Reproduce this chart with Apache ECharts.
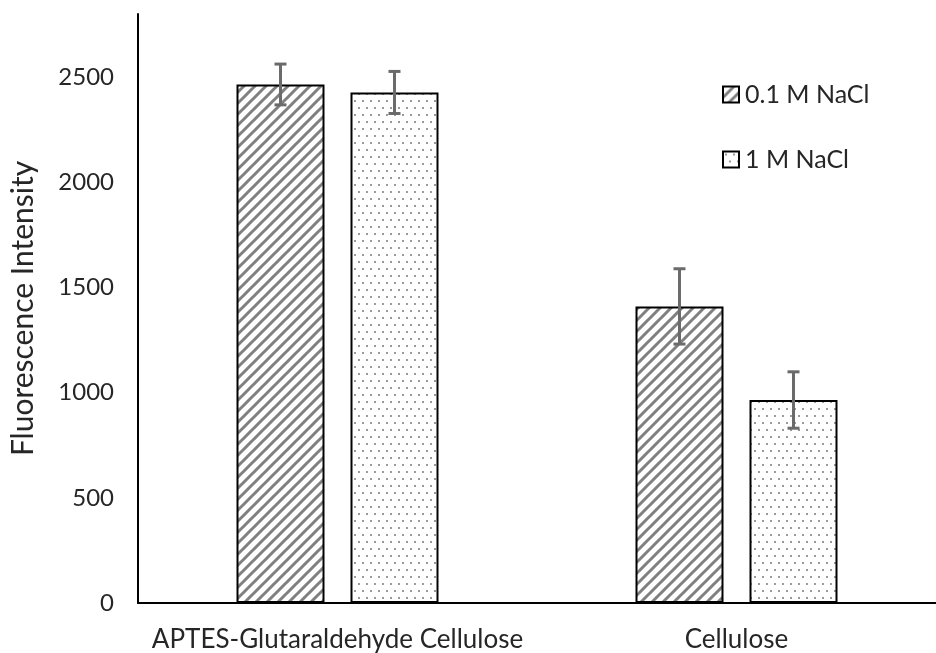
<!DOCTYPE html>
<html>
<head>
<meta charset="utf-8">
<script src="https://cdn.jsdelivr.net/npm/echarts@6/dist/echarts.min.js"></script>
<style>
  html, body { margin: 0; padding: 0; background: #fff; }
  #chart { width: 936px; height: 653px; }
</style>
</head>
<body>
<div id="chart"></div>
<script>
// Sample groups and salt conditions
const categories = ['APTES-Glutaraldehyde Cellulose', 'Cellulose'];
const seriesNames = ['0.1 M NaCl', '1 M NaCl'];
// Mean fluorescence intensity per group
const lowSalt = [2465, 1410];
const highSalt = [2427, 965];
// Standard deviations (error bar half-lengths)
const lowSaltErr = [97, 179];
const highSaltErr = [100, 134];
const yTicks = [0, 500, 1000, 1500, 2000, 2500];

// Fill patterns: diagonal hatch and sparse dots
function hatchPattern() {
  const c = document.createElement('canvas');
  c.width = 11; c.height = 11;
  const g = c.getContext('2d');
  g.fillStyle = '#fff';
  g.fillRect(0, 0, 11, 11);
  g.strokeStyle = '#808080';
  g.lineWidth = 3;
  g.beginPath();
  for (let k = -11; k <= 22; k += 11) {
    g.moveTo(k - 1, 12);
    g.lineTo(k + 12, -1);
  }
  g.stroke();
  return { image: c, repeat: 'repeat' };
}
function dotPattern() {
  const c = document.createElement('canvas');
  c.width = 8; c.height = 14;
  const g = c.getContext('2d');
  g.fillStyle = '#fff';
  g.fillRect(0, 0, 8, 14);
  g.fillStyle = '#999';
  g.fillRect(2, 2, 2, 2);
  g.fillRect(6, 9, 2, 2);
  return { image: c, repeat: 'repeat' };
}

const BAR_W = 88;
const BAR_GAP = 26;
const fonts = 'Lato, "Open Sans", sans-serif';
const textColor = '#262626';

function errorSeries(values, errs, side) {
  return {
    type: 'custom',
    name: seriesNames[side < 0 ? 0 : 1] + ' err',
    z: 5,
    silent: true,
    data: values.map((v, i) => [i, v - errs[i], v + errs[i]]),
    renderItem: function (params, api) {
      const lo = api.coord([api.value(0), api.value(1)]);
      const hi = api.coord([api.value(0), api.value(2)]);
      const dx = side * (BAR_W + BAR_GAP) / 2;
      const x = lo[0] + dx;
      const cap = 6;
      const style = { stroke: '#6b6b6b', lineWidth: 3, fill: null };
      return {
        type: 'group',
        children: [
          { type: 'line', shape: { x1: x, y1: lo[1], x2: x, y2: hi[1] }, style: style },
          { type: 'line', shape: { x1: x - cap, y1: hi[1], x2: x + cap, y2: hi[1] }, style: style },
          { type: 'line', shape: { x1: x - cap, y1: lo[1], x2: x + cap, y2: lo[1] }, style: style }
        ]
      };
    }
  };
}

const chart = echarts.init(document.getElementById('chart'), null, { renderer: 'canvas' });
chart.setOption({
  animation: false,
  backgroundColor: '#fff',
  textStyle: { fontFamily: fonts },
  grid: { left: 136, right: 0, top: 14, bottom: 50, containLabel: false },
  legend: {
    data: seriesNames,
    orient: 'vertical',
    left: 717,
    top: 77,
    itemGap: 40,
    itemWidth: 16,
    itemHeight: 16,
    icon: 'rect',
    textStyle: { fontFamily: fonts, fontSize: 25, color: textColor, padding: [0, 0, 0, 1] }
  },
  xAxis: {
    type: 'category',
    data: categories,
    axisLine: { show: true, lineStyle: { color: '#000', width: 2 } },
    axisTick: { show: false },
    axisLabel: { color: textColor, fontSize: 26, margin: 24, fontFamily: fonts, interval: 0 }
  },
  yAxis: {
    type: 'value',
    min: 0,
    max: 2800,
    interval: 500,
    name: 'Fluorescence Intensity',
    nameLocation: 'middle',
    nameGap: 100,
    nameTextStyle: { fontSize: 30, color: textColor, fontFamily: fonts },
    axisLine: { show: true, lineStyle: { color: '#000', width: 2 } },
    axisTick: { show: false },
    splitLine: { show: false },
    axisLabel: {
      color: textColor, fontSize: 24, margin: 24, fontFamily: fonts,
      showMaxLabel: false,
      formatter: v => (yTicks.indexOf(v) >= 0 ? String(v) : '')
    }
  },
  series: [
    {
      type: 'bar', name: seriesNames[0], data: lowSalt,
      barWidth: BAR_W, barGap: (BAR_GAP / BAR_W * 100) + '%',
      itemStyle: { color: hatchPattern(), borderColor: '#000', borderWidth: 2 }
    },
    {
      type: 'bar', name: seriesNames[1], data: highSalt,
      barWidth: BAR_W,
      itemStyle: { color: dotPattern(), borderColor: '#000', borderWidth: 2 }
    },
    errorSeries(lowSalt, lowSaltErr, -1),
    errorSeries(highSalt, highSaltErr, 1)
  ]
});
</script>
</body>
</html>
